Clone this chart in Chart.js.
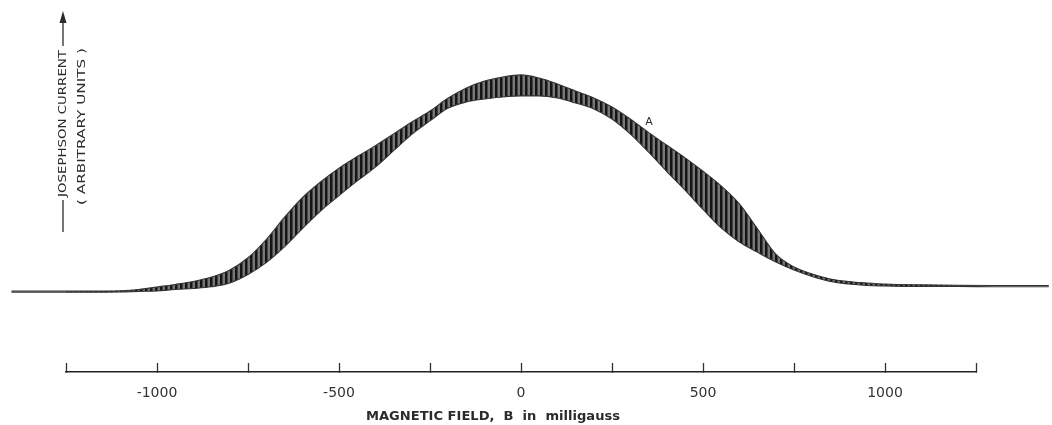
<!DOCTYPE html>
<html><head><meta charset="utf-8">
<script src="https://cdn.jsdelivr.net/npm/chart.js@4"></script>
<style>html,body{margin:0;padding:0;background:#fff}#wrap{width:1052px;height:425px}</style>
</head><body><div id="wrap"><canvas id="c" width="1052" height="425"></canvas></div>
<script>
// ---- data (field in milligauss, current in arbitrary units) ----
const fieldMilligauss = [-1400,-1300,-1200,-1100,-1050,-1000,-950,-900,-850,-800,-750,-700,-650,-600,-550,-500,-450,-400,-350,-300,-250,-200,-150,-100,-50,0,50,100,150,200,250,300,350,400,450,500,550,600,650,700,750,800,850,900,950,1000,1100,1200,1300,1400,1450];
const currentUpper = [-0.1,-0.1,-0.1,0.1,0.7,1.9,3.1,4.5,6.6,10.0,15.8,24.5,35.0,44.5,52.0,58.5,64.0,69.2,74.8,80.5,85.7,91.9,96.7,100.0,101.9,102.9,101.4,98.6,95.2,91.9,87.6,81.9,75.5,69.5,63.5,57.0,50.0,41.5,29.5,17.5,11.4,8.1,5.7,4.5,3.8,3.3,2.9,2.7,2.6,2.6,2.6];
const currentLower = [-0.6,-0.6,-0.6,-0.5,-0.2,0.0,0.7,1.2,2.0,3.8,7.8,13.5,21.0,29.8,38.2,45.4,52.4,59.0,66.8,74.6,81.0,87.1,90.0,91.4,92.4,92.9,92.9,91.9,89.5,86.7,81.9,74.8,66.2,57.0,48.1,38.8,30.0,23.3,18.4,13.8,10.0,6.9,4.5,3.3,2.6,2.4,2.1,2.1,2.0,2.0,2.0];
const tickValues = [-1250,-1000,-750,-500,-250,0,250,500,750,1000,1250];
const tickLabels = ['','-1000','','-500','','0','','500','','1000',''];
const xAxisTitle = 'MAGNETIC FIELD,  B  in  milligauss';
const yAxisTitle = ['JOSEPHSON CURRENT', '( ARBITRARY UNITS )'];
const pointLabel = 'A';
const pointLabelAt = [352, 80.5];

const ink = '#2b2b2b';

// vertical streak texture for the oscillating band
const pc = document.createElement('canvas');
pc.width = 5; pc.height = 8;
const pctx = pc.getContext('2d');
pctx.fillStyle = 'rgba(95,95,95,0.85)';
pctx.fillRect(0, 0, 5, 8);
pctx.fillStyle = '#151515';
pctx.fillRect(0, 0, 2.5, 8);
const ctxMain = document.getElementById('c').getContext('2d');
const streaks = ctxMain.createPattern(pc, 'repeat');

const textPlugin = {
  id: 'figText',
  afterDraw(chart) {
    const {ctx, chartArea: a, scales: {x, y}} = chart;
    ctx.save();
    ctx.fillStyle = ink; ctx.strokeStyle = ink;
    function fitText(str, cx, cy, target, font, rot) {
      ctx.save();
      ctx.font = font;
      ctx.translate(cx, cy);
      if (rot) ctx.rotate(-Math.PI / 2);
      const w = ctx.measureText(str).width;
      ctx.scale(target / w, 1);
      ctx.textAlign = 'center'; ctx.textBaseline = 'middle';
      ctx.fillText(str, 0, 0);
      ctx.restore();
    }
    const yFont = '500 11px "DejaVu Sans"';
    const c1 = a.left - 3, c2 = a.left + 16;
    fitText(yAxisTitle[0], c1, 123.5, 147, yFont, true);
    fitText(yAxisTitle[1], c2, 126.5, 157, yFont, true);
    ctx.lineWidth = 1.3;
    ctx.beginPath();
    ctx.moveTo(c1, 200); ctx.lineTo(c1, 232);
    ctx.moveTo(c1, 46); ctx.lineTo(c1, 20);
    ctx.stroke();
    ctx.beginPath();
    ctx.moveTo(c1, 11); ctx.lineTo(c1 - 3.5, 23); ctx.lineTo(c1 + 3.5, 23); ctx.closePath();
    ctx.fill();
    // x axis title
    fitText(xAxisTitle, (a.left + a.right) / 2 - 28, 416.5, 254, '600 12px "DejaVu Sans"', false);
    // point label
    ctx.font = '11px "DejaVu Sans"';
    ctx.textAlign = 'center'; ctx.textBaseline = 'middle';
    ctx.fillText(pointLabel, x.getPixelForValue(pointLabelAt[0]), y.getPixelForValue(pointLabelAt[1]));
    ctx.restore();
  }
};

const xMin = tickValues[0], xMax = tickValues[tickValues.length - 1];

new Chart(ctxMain, {
  type: 'line',
  data: {
    datasets: [
      {
        data: fieldMilligauss.map((v, i) => ({x: v, y: currentUpper[i]})),
        borderColor: '#333', borderWidth: 1.1, pointRadius: 0, fill: false,
        cubicInterpolationMode: 'monotone', clip: false
      },
      {
        data: fieldMilligauss.map((v, i) => ({x: v, y: currentLower[i]})),
        borderColor: '#333', borderWidth: 1.1, pointRadius: 0,
        fill: '-1', backgroundColor: streaks,
        cubicInterpolationMode: 'monotone', clip: false
      }
    ]
  },
  options: {
    responsive: false, animation: false,
    layout: {padding: {left: 66, right: 76, top: 10, bottom: 0}},
    plugins: {legend: {display: false}, tooltip: {enabled: false}},
    scales: {
      x: {
        type: 'linear', position: 'bottom', bounds: 'data',
        afterDataLimits(s) { s.min = xMin; s.max = xMax; },
        afterBuildTicks(s) { s.min = xMin; s.max = xMax; s.ticks = tickValues.map(v => ({value: v})); },
        afterFit(s) { s.height = 53; },
        ticks: {
          autoSkip: false, maxRotation: 0, padding: 22, color: '#333',
          font: {family: '"DejaVu Sans"', size: 14},
          callback(v) { const i = tickValues.indexOf(v); return i >= 0 ? tickLabels[i] : ''; }
        },
        grid: {display: true, drawOnChartArea: false, drawTicks: true, tickLength: -9, tickColor: '#333', tickWidth: 1.3},
        border: {display: true, color: '#222', width: 1.6}
      },
      y: {type: 'linear', display: false, min: -38.6, max: 133.8}
    }
  },
  plugins: [textPlugin]
});
</script>
</body></html>
